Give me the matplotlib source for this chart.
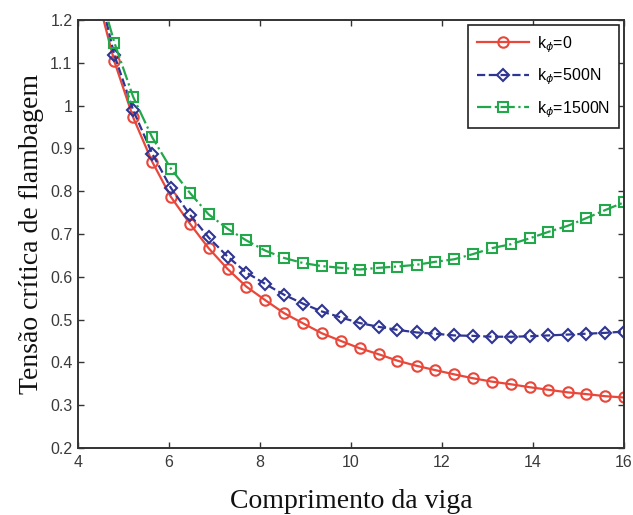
#!/usr/bin/env python3
"""Critical buckling stress vs beam length for three k_phi values."""

import matplotlib
matplotlib.use("Agg")
import matplotlib.pyplot as plt

# beam length (first point lies above the visible range, clipped like the original)
length = [4.39, 4.80, 5.21, 5.63, 6.04, 6.46, 6.87, 7.29, 7.70, 8.12, 8.53,
          8.95, 9.36, 9.78, 10.19, 10.61, 11.02, 11.44, 11.85, 12.27, 12.68,
          13.10, 13.51, 13.93, 14.34, 14.76, 15.17, 15.59, 16.00]

k0 = [1.27, 1.103, 0.973, 0.869, 0.787, 0.724, 0.667, 0.618, 0.577, 0.545, 0.515,
      0.491, 0.468, 0.450, 0.433, 0.419, 0.404, 0.392, 0.382, 0.372, 0.363,
      0.355, 0.349, 0.342, 0.336, 0.330, 0.326, 0.321, 0.318]

k500 = [1.30, 1.118, 0.990, 0.888, 0.808, 0.745, 0.692, 0.647, 0.610, 0.583, 0.558,
        0.537, 0.519, 0.505, 0.492, 0.483, 0.476, 0.470, 0.467, 0.463, 0.462,
        0.460, 0.460, 0.461, 0.463, 0.465, 0.467, 0.469, 0.472]

k1500 = [1.30, 1.147, 1.021, 0.926, 0.853, 0.796, 0.746, 0.712, 0.685, 0.661, 0.644,
         0.632, 0.625, 0.621, 0.617, 0.621, 0.624, 0.628, 0.635, 0.641, 0.653,
         0.667, 0.676, 0.690, 0.705, 0.719, 0.737, 0.756, 0.774]

labels = [r"k$_{\phi}$=0", r"k$_{\phi}$=500N", r"k$_{\phi}$=1500N"]

x_ticks = [4, 6, 8, 10, 12, 14, 16]
y_ticks = [0.2, 0.3, 0.4, 0.5, 0.6, 0.7, 0.8, 0.9, 1.0, 1.1, 1.2]
y_tick_labels = ["0.2", "0.3", "0.4", "0.5", "0.6", "0.7", "0.8", "0.9", "1", "1.1", "1.2"]

RED = "#e8473a"
BLUE = "#2f3593"
GREEN = "#22a84a"


def main() -> None:
    fig = plt.figure(figsize=(6.33, 5.15), dpi=100)
    ax = fig.add_axes([0.1232, 0.1301, 0.8626, 0.8311])

    common = dict(linewidth=1.6, markersize=7.5, markerfacecolor="none",
                  markeredgewidth=1.5)
    ax.plot(length, k0, color=RED, linestyle="-", marker="o",
            markeredgecolor=RED, label=labels[0], **common)
    ax.plot(length, k500, color=BLUE, linestyle="--", marker="D",
            markeredgecolor=BLUE, label=labels[1], **dict(common, markersize=6.5))
    ax.plot(length, k1500, color=GREEN, linestyle="-.", marker="s",
            markeredgecolor=GREEN, label=labels[2], **common)

    ax.set_xlim(4, 16)
    ax.set_ylim(0.2, 1.2)
    ax.set_xticks(x_ticks)
    ax.set_yticks(y_ticks)
    ax.set_yticklabels(y_tick_labels)

    for lab in ax.get_xticklabels() + ax.get_yticklabels():
        lab.set_fontfamily(["Liberation Sans", "DejaVu Sans"])
        lab.set_fontsize(11.5)
        lab.set_color("#3a3a3a")

    ax.tick_params(direction="in", top=True, right=True, length=4,
                   width=1.0, color="#333333")
    ax.tick_params(axis="y", pad=4)
    ax.tick_params(axis="x", pad=5)
    for spine in ax.spines.values():
        spine.set_linewidth(1.4)
        spine.set_color("#333333")

    label_font = dict(family=["Liberation Serif", "DejaVu Serif"], size=20, color="#111111")
    ax.set_xlabel("Comprimento da viga", labelpad=14, **label_font)
    ax.set_ylabel("Tensão crítica de flambagem", labelpad=4, **label_font)

    leg = ax.legend(loc="upper right", numpoints=1, fancybox=False, framealpha=1,
                    edgecolor="#222222", borderpad=0.55, handlelength=3.3,
                    handletextpad=0.5, labelspacing=0.75,
                    prop={"family": "Liberation Sans", "size": 11.5},
                    bbox_to_anchor=(0.991, 0.988), borderaxespad=0)
    leg.get_frame().set_linewidth(1.2)

    fig.savefig("out.png", dpi=100)
    plt.close(fig)


if __name__ == "__main__":
    main()
